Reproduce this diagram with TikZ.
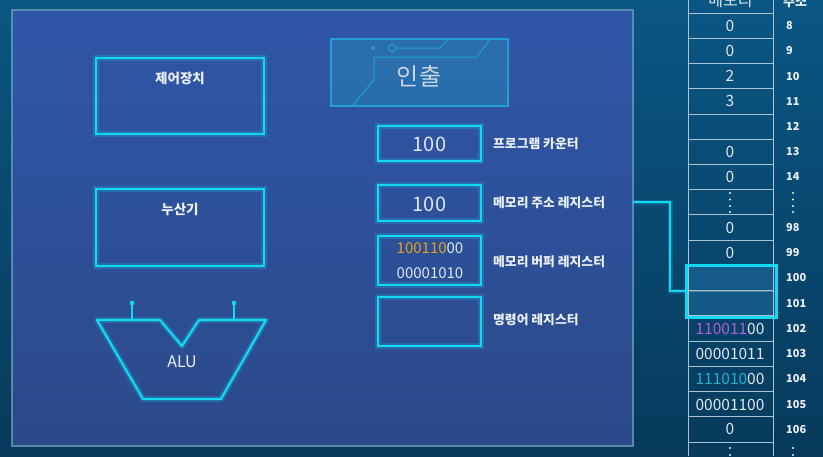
\documentclass[tikz,border=0pt]{standalone}
\usepackage{fontspec}
\setmainfont{Noto Sans CJK KR}
\usetikzlibrary{calc}
\definecolor{bgTop}{RGB}{10,86,132}
\definecolor{bgBot}{RGB}{7,58,92}
\definecolor{pTop}{RGB}{47,86,168}
\definecolor{pMid}{RGB}{72,100,177}
\definecolor{pBot}{RGB}{44,74,138}
\definecolor{pBorder}{RGB}{96,150,180}
\definecolor{cy}{RGB}{18,216,242}
\definecolor{txt}{RGB}{235,240,246}
\definecolor{val}{RGB}{222,230,238}
\definecolor{gridc}{RGB}{170,196,212}
\definecolor{fetchFill}{RGB}{40,122,176}
\definecolor{fetchLine}{RGB}{34,160,208}
\definecolor{fetchTxt}{RGB}{200,214,230}
\definecolor{orng}{RGB}{232,160,32}
\definecolor{purp}{RGB}{176,96,212}
\definecolor{teal2}{RGB}{32,176,210}
\definecolor{hlFill}{RGB}{30,104,156}
\begin{document}
\begin{tikzpicture}[x=1pt,y=-1pt,
  cybox/.style={draw=cy, line width=2.2pt,
    preaction={draw=cy, line width=6pt, opacity=0.22}},
  unitbox/.style={cybox, minimum width=168pt, minimum height=76pt, inner sep=0pt},
  regbox/.style={cybox, minimum width=103pt, inner sep=0pt},
  lbl/.style={text=txt, font=\bfseries\fontsize{13.5}{15}\selectfont, inner sep=0pt},
  reglbl/.style={text=txt, font=\bfseries\fontsize{12.8}{14}\selectfont, inner sep=0pt, anchor=west},
  regval/.style={text=val, font=\fontsize{20}{22}\selectfont, inner sep=0pt},
  binval/.style={text=val, font=\fontsize{15}{17}\selectfont, inner sep=0pt},
  memval/.style={text=val, font=\fontsize{15.5}{17}\selectfont, inner sep=0pt},
  addr/.style={text=txt, font=\bfseries\fontsize{11}{13}\selectfont, inner sep=0pt, anchor=west},
  gridline/.style={draw=gridc, line width=0.9pt},
  dotc/.style={fill=txt, draw=none},
  fetchln/.style={draw=fetchLine, line width=1pt}
]
\useasboundingbox (0,0) rectangle (823,456);
\clip (0,0) rectangle (823,456);
% outer background
\shade[top color=bgTop, bottom color=bgBot] (0,0) rectangle (823,456);
% panel
\shade[top color=pTop, middle color=pMid, bottom color=pBot] (12,10) rectangle (633,446);
\draw[pBorder, line width=2.5pt, opacity=0.85] (12,10) rectangle (633,446);

% control unit and accumulator
\node[unitbox] (cu) at (180,96) {};
\node[lbl] (cuL) at (180,78) {제어장치};
\node[unitbox, minimum height=77pt] (acc) at (180,227.5) {};
\node[lbl] (accL) at (180,209) {누산기};

% ALU
\draw[cy, line width=6pt, opacity=0.22, line join=round]
  (97,320) -- (160,320) -- (182,346) -- (199,320) -- (266,320) -- (221,399) -- (143,399) -- cycle;
\draw[cy, line width=2.2pt, line join=round]
  (97,320) -- (160,320) -- (182,346) -- (199,320) -- (266,320) -- (221,399) -- (143,399) -- cycle;
\draw[cy, line width=2pt] (132,320) -- (132,304);
\draw[cy, line width=2pt] (234,320) -- (234,304);
\fill[cy] (132,303) circle (2.3);
\fill[cy] (234,303) circle (2.3);
\node[text=txt, font=\fontsize{16}{18}\selectfont, inner sep=0pt] (aluL) at (182,362) {ALU};

% fetch box
\node[draw=fetchLine, line width=1.5pt, fill=fetchFill, fill opacity=0.7,
      minimum width=177pt, minimum height=67pt, inner sep=0pt] (fetch) at (419.5,72.5) {};
\draw[fetchln] (373,48) circle (1.6);
\draw[fetchln] (392,48) circle (3.6);
\draw[fetchln] (395.6,48) -- (440,48) -- (448,39);
\draw[fetchln] (352,106) -- (374,80) -- (374,57) -- (477,57) -- (490,39);
\node[text=fetchTxt, font=\fontsize{24}{26}\selectfont, inner sep=0pt] (fetchL) at (419,76) {인출};

% registers
\node[regbox, minimum height=35pt] (pc) at (429.5,143.5) {};
\node[regval] (pcV) at (429.5,144) {100};
\node[reglbl] (pcL) at (493,144) {프로그램 카운터};

\node[regbox, minimum height=36pt] (mar) at (429.5,203) {};
\node[regval] (marV) at (429.5,204) {100};
\node[reglbl] (marL) at (493,203) {메모리 주소 레지스터};

\node[regbox, minimum height=49pt] (mbr) at (429.5,260.5) {};
\node[binval] (mbrV1) at (430,248) {\textcolor{orng}{100110}00};
\node[binval] (mbrV2) at (430,273) {00001010};
\node[reglbl] (mbrL) at (493,262) {메모리 버퍼 레지스터};

\node[regbox, minimum height=49pt] (ir) at (429.5,321.5) {};
\node[reglbl] (irL) at (493,320) {명령어 레지스터};

% memory column
\node[text=val, font=\fontsize{16}{18}\selectfont, inner sep=0pt, anchor=base] (memH) at (730.5,6) {메모리};
\node[text=txt, font=\bfseries\fontsize{13}{15}\selectfont, inner sep=0pt, anchor=base] (addrH) at (795,6) {주소};

% highlight of cells 100-101
\node[draw=cy, line width=2pt, fill=hlFill, fill opacity=0.6,
      minimum width=89pt, minimum height=51pt, inner sep=0pt] (hl) at (731.5,291) {};
\draw[gridc, opacity=0.35, line width=0.8pt] (hl.west) -- (hl.east);

\draw[gridline] (688,0) -- (688,456);
\draw[gridline] (773,0) -- (773,456);
\foreach \i in {0,...,17} {
  \draw[gridline] (688,{13+25.24*\i}) -- (773,{13+25.24*\i});
}
\draw[cy, line width=2pt] (hl.north west) rectangle (hl.south east);

% values
\node[memval] (m8) at (730,25.6) {0};
\node[memval] (m9) at (730,50.9) {0};
\node[memval] (m10) at (730,76.1) {2};
\node[memval] (m11) at (730,101.3) {3};
\node[memval] (m13) at (730,151.8) {0};
\node[memval] (m14) at (730,177.0) {0};
\node[memval] (m98) at (730,227.5) {0};
\node[memval] (m99) at (730,252.8) {0};
\node[memval] (m102) at (730,329) {\textcolor{purp}{110011}00};
\node[memval] (m103) at (730,354) {00001011};
\node[memval] (m104) at (730,379.4) {\textcolor{teal2}{111010}00};
\node[memval] (m105) at (730,404.6) {00001100};
\node[memval] (m106) at (730,429.4) {0};

% addresses
\foreach \a/\y in {8/25.6, 9/50.9, 10/76.1, 11/101.3, 12/126.6, 13/151.8, 14/177.0,
                   98/227.5, 99/252.8, 100/278.0, 101/303.2, 102/328.5, 103/353.7,
                   104/378.9, 105/404.2, 106/429.4} {
  \node[addr] (a\a) at (786,\y) {\a};
}

% vertical ellipses
\foreach \x in {730,793} {
  \foreach \y in {193,199.5,206,212} { \fill[dotc] (\x,\y) circle (1.1); }
  \foreach \y in {448,455} { \fill[dotc] (\x,\y) circle (1.1); }
}

% connector MAR -> memory
\coordinate (marOut) at (633,202);
\draw[cy, line width=5pt, opacity=0.2] (marOut) -- (670,202) |- (hl.west);
\draw[cy, line width=2pt] (marOut) -- (670,202) |- (hl.west);
\end{tikzpicture}
\end{document}
